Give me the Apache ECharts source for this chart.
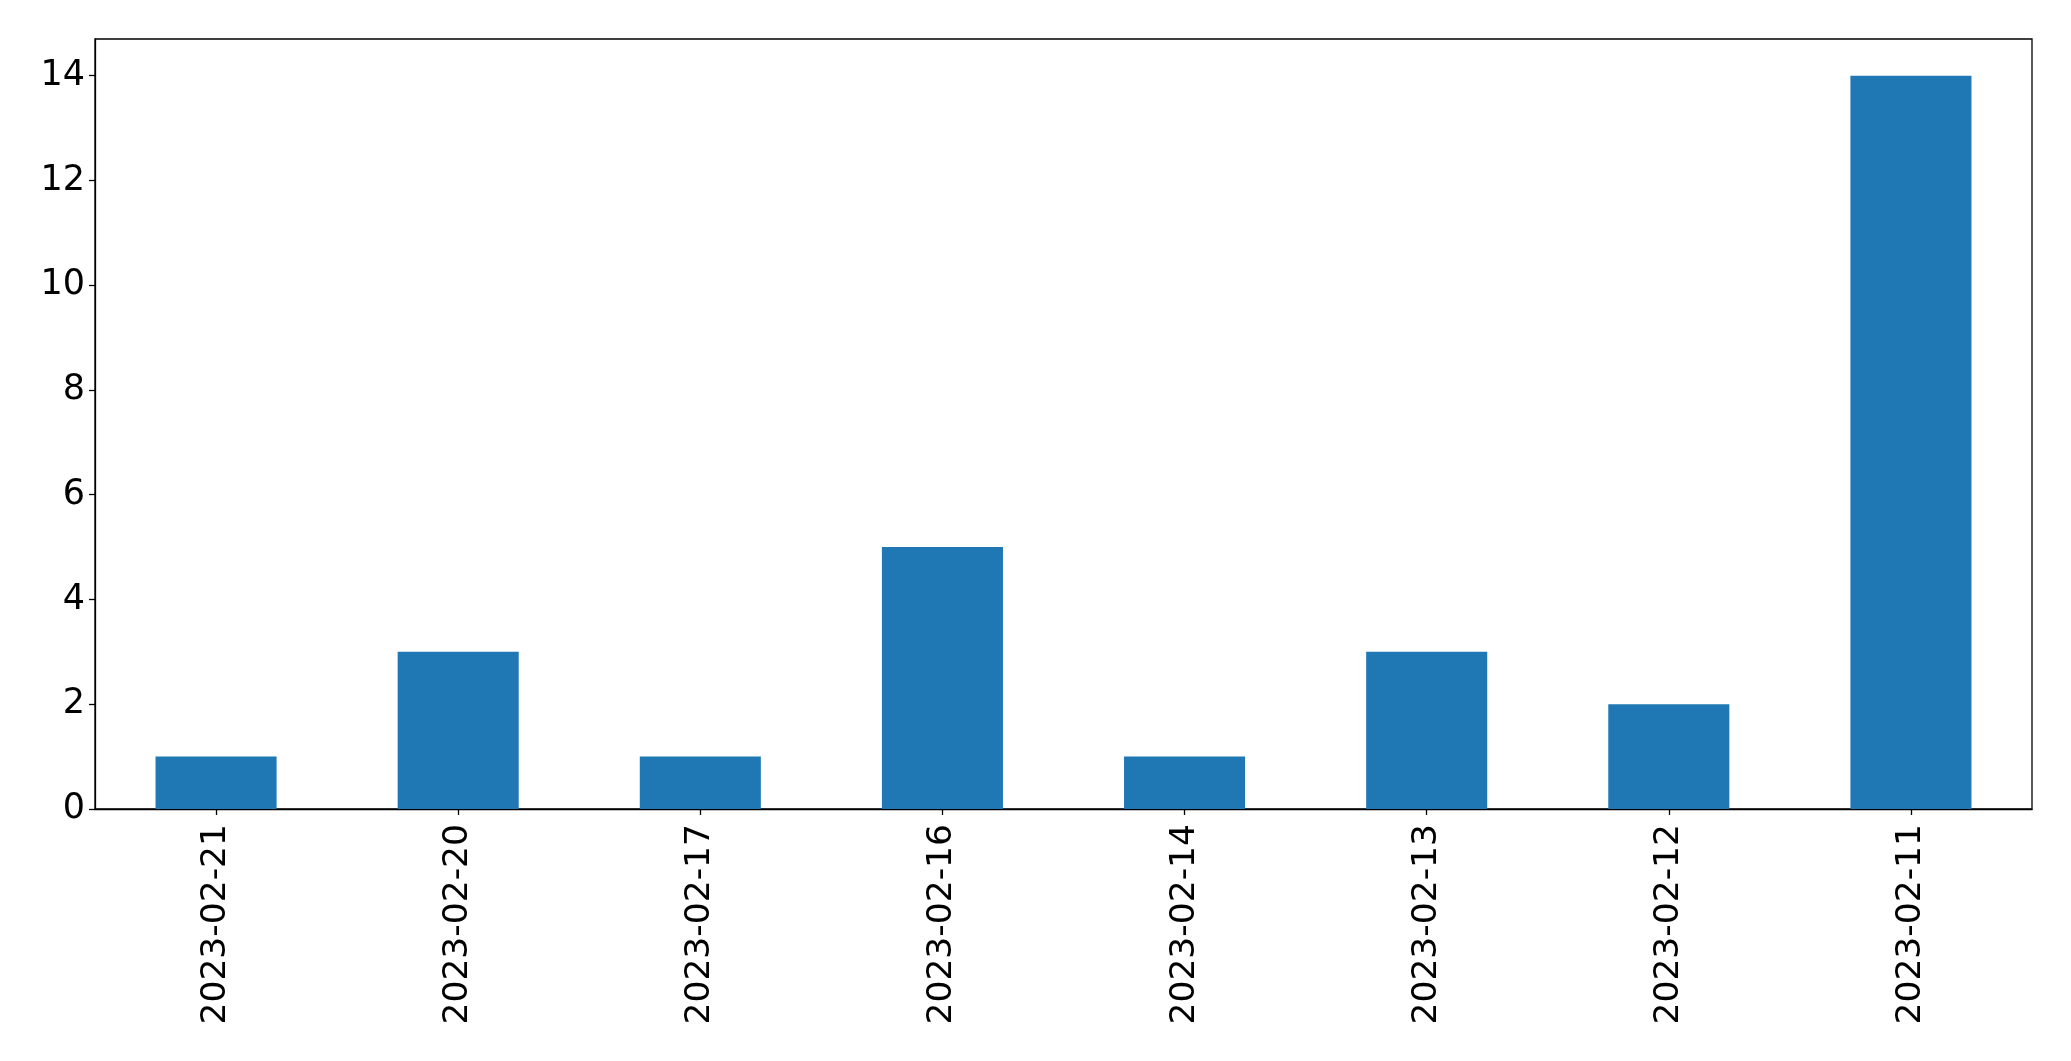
<!DOCTYPE html>
<html>
<head>
<meta charset="utf-8">
<script src="https://cdn.jsdelivr.net/npm/echarts@6/dist/echarts.min.js"></script>
<style>html,body{margin:0;padding:0;background:#fff;}#c{width:2071px;height:1061px;}</style>
</head>
<body>
<div id="c"></div>
<script>
const categories = ['2023-02-21','2023-02-20','2023-02-17','2023-02-16','2023-02-14','2023-02-13','2023-02-12','2023-02-11'];
const counts = [1, 3, 1, 5, 1, 3, 2, 14];
const yTicks = [0, 2, 4, 6, 8, 10, 12, 14];

const chart = echarts.init(document.getElementById('c'), null, {renderer: 'canvas'});
const font = 'DejaVu Sans';
chart.setOption({
  animation: false,
  backgroundColor: '#ffffff',
  grid: {left: 95, right: 39, top: 39, bottom: 252, show: true, borderColor: '#000', borderWidth: 1.3, containLabel: false},
  xAxis: {
    type: 'category',
    data: categories,
    boundaryGap: true,
    axisLine: {show: true, lineStyle: {color: '#000', width: 1.3}},
    axisTick: {show: true, alignWithLabel: true, length: 6, lineStyle: {color: '#000', width: 1.3}},
    axisLabel: {rotate: 90, color: '#000', fontFamily: font, fontSize: 34.5, margin: 15, interval: 0},
    splitLine: {show: false}
  },
  yAxis: {
    type: 'value',
    min: 0,
    max: 14.7,
    interval: 2,
    axisLine: {show: true, lineStyle: {color: '#000', width: 1.3}},
    axisTick: {show: true, length: 6, lineStyle: {color: '#000', width: 1.3}, customValues: yTicks},
    axisLabel: {color: '#000', fontFamily: font, fontSize: 35, margin: 10, customValues: yTicks},
    splitLine: {show: false}
  },
  series: [{
    type: 'bar',
    data: counts,
    barWidth: '50%',
    itemStyle: {color: '#1f77b4'}
  }]
});
</script>
</body>
</html>
